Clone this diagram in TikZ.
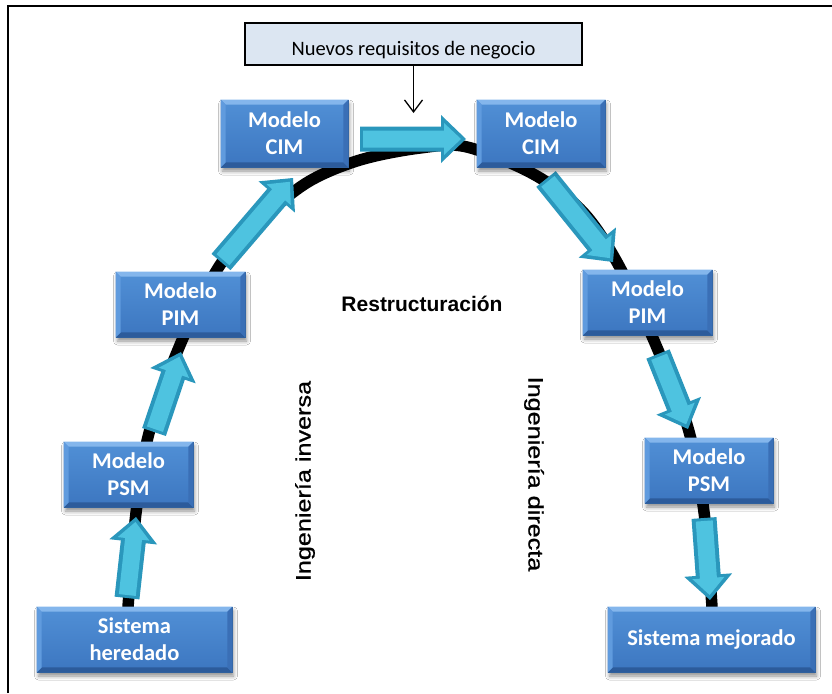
\documentclass[tikz,border=0pt]{standalone}
\usepackage{fontspec}
\setmainfont{Carlito}
\newfontfamily\arialfont{Liberation Sans}
\newfontfamily\arialsemi[FakeBold=0.8]{Liberation Sans}
\usetikzlibrary{calc,arrows.meta,shadows.blur}

\definecolor{faceTop}{HTML}{5190D6}
\definecolor{faceBot}{HTML}{3C76C0}
\definecolor{bvTop}{HTML}{84B6EC}
\definecolor{bvLeft}{HTML}{609BDE}
\definecolor{bvRight}{HTML}{3A6FB6}
\definecolor{bvBot}{HTML}{2C5B9B}
\definecolor{boxLine}{HTML}{31639F}
\definecolor{cyanEdge}{HTML}{2A97BC}
\definecolor{cyanFace}{HTML}{4EC3E0}
\definecolor{noteFill}{HTML}{DCE6F2}

\tikzset{
  mbox/.style={rectangle, inner sep=0pt, align=center,
    top color=faceTop, bottom color=faceBot, draw=boxLine, line width=0.6pt,
    text=white, font=\fontsize{22.5}{27}\selectfont\bfseries,
    blur shadow={shadow xshift=1.5pt, shadow yshift=-4pt, shadow opacity=45, shadow blur radius=4pt}},
  notebox/.style={rectangle, draw=black, line width=1.1pt, fill=noteFill, inner sep=0pt},
  archline/.style={line width=11.5pt, black, line cap=round},
  thinarrow/.style={line width=1.3pt, -{Straight Barb[length=12pt, width=18pt]}},
  sidelabel/.style={font=\arialsemi\fontsize{21}{24}\selectfont, inner sep=0pt},
  framelines/.style={line width=1.2pt, black}
}

% bevelled edge strips drawn over a model box
\newcommand\bevelbox[1]{%
  \fill[bvTop] (#1.north west) -- (#1.north east) -- ([shift={(-5,5)}]#1.north east) -- ([shift={(5,5)}]#1.north west) -- cycle;
  \fill[bvBot] (#1.south west) -- (#1.south east) -- ([shift={(-5,-5)}]#1.south east) -- ([shift={(5,-5)}]#1.south west) -- cycle;
  \fill[bvLeft] (#1.north west) -- ([shift={(5,5)}]#1.north west) -- ([shift={(5,-5)}]#1.south west) -- (#1.south west) -- cycle;
  \fill[bvRight] (#1.north east) -- ([shift={(-5,5)}]#1.north east) -- ([shift={(-5,-5)}]#1.south east) -- (#1.south east) -- cycle;
}

% thick cyan block arrow from #1 to #2, with a lighter inner face
\newcommand\cyanarrow[2]{%
  \coordinate (ah) at ($(#2)!25pt!(#1)$);
  \fill[cyanEdge] ($(#1)!12.5pt!90:(#2)$) -- ($(ah)!12.5pt!90:(#2)$) -- ($(ah)!24pt!90:(#2)$) -- (#2)
     -- ($(ah)!24pt!-90:(#2)$) -- ($(ah)!12.5pt!-90:(#2)$) -- ($(#1)!12.5pt!-90:(#2)$) -- cycle;
  \coordinate (ia) at ($(#1)!3pt!(#2)$);
  \coordinate (ib) at ($(#2)!5pt!(#1)$);
  \coordinate (ih) at ($(ib)!17pt!(#1)$);
  \fill[cyanFace] ($(ia)!8.5pt!90:(ib)$) -- ($(ih)!8.5pt!90:(ib)$) -- ($(ih)!16pt!90:(ib)$) -- (ib)
     -- ($(ih)!16pt!-90:(ib)$) -- ($(ih)!8.5pt!-90:(ib)$) -- ($(ia)!8.5pt!-90:(ib)$) -- cycle;
}

\begin{document}
\begin{tikzpicture}[x=1pt, y=-1pt]
  \useasboundingbox (0,0) rectangle (832,693);
  \fill[white] (0,0) rectangle (832,693);

  % outer frame
  \draw[framelines] (8,693) -- (8,6) -- (832,6);

  % the black arch
  \draw[archline] plot[smooth, tension=0.55] coordinates {
    (128,607) (136,513) (149,433) (180,345) (220,265) (262,219) (308,182) (360,160)
    (420,148) (467,147) (535,175) (583,212) (618,264) (655,343) (688,428) (704,512) (712,607)};

  % arrows along the arch
  \coordinate (a1t) at (127,598);  \coordinate (a1h) at (136,517);
  \coordinate (a2t) at (154,432);  \coordinate (a2h) at (181,352);
  \coordinate (a3t) at (221,262);  \coordinate (a3h) at (293,178);
  \coordinate (a4t) at (360,139);  \coordinate (a4h) at (466,139);
  \coordinate (a5t) at (546,179);  \coordinate (a5h) at (613,262);
  \coordinate (a6t) at (658,354);  \coordinate (a6h) at (688,429);
  \coordinate (a7t) at (704,518);  \coordinate (a7h) at (710,600);
  \cyanarrow{a1t}{a1h}
  \cyanarrow{a2t}{a2h}
  \cyanarrow{a3t}{a3h}
  \cyanarrow{a4t}{a4h}
  \cyanarrow{a5t}{a5h}
  \cyanarrow{a6t}{a6h}
  \cyanarrow{a7t}{a7h}

  % model boxes
  \node[mbox, minimum width=127pt, minimum height=67pt] (ciml) at (284.5,133.5) {Modelo\\CIM};
  \node[mbox, minimum width=128pt, minimum height=67pt] (cimr) at (541,133.5) {Modelo\\CIM};
  \node[mbox, minimum width=129pt, minimum height=65pt] (piml) at (180.5,304.5) {Modelo\\PIM};
  \node[mbox, minimum width=129pt, minimum height=65pt] (pimr) at (647.5,302.5) {Modelo\\PIM};
  \node[mbox, minimum width=129pt, minimum height=65pt] (psml) at (128.5,474.5) {Modelo\\PSM};
  \node[mbox, minimum width=128pt, minimum height=65pt] (psmr) at (709,470.5) {Modelo\\PSM};
  \node[mbox, minimum width=195pt, minimum height=65pt] (old) at (134.5,639.5) {Sistema\\heredado};
  \node[mbox, minimum width=207pt, minimum height=65pt] (new) at (711.5,639.5) {Sistema mejorado};
  \foreach \b in {ciml,cimr,piml,pimr,psml,psmr,old,new} {\bevelbox{\b}}

  % new business requirements
  \node[notebox, minimum width=337pt, minimum height=42pt] (req) at (413.5,44) {};
  \node[font=\fontsize{20.5}{22}\selectfont, inner sep=0pt, anchor=base] (reqtext) at (413.5,55.5) {Nuevos requisitos de negocio};
  \coordinate (reqend) at (413.5,113);
  \draw[thinarrow] (req.south) -- (reqend);

  % phase labels
  \node[font=\arialfont\bfseries\fontsize{21}{24}\selectfont, inner sep=0pt] (restr) at (422,304) {Restructuración};
  \node[sidelabel, rotate=90] (inv) at (305,481) {\scalebox{1.2}[1]{Ingeniería inversa}};
  \node[sidelabel, rotate=-90] (dir) at (534,474) {\scalebox{1.2}[1]{Ingeniería directa}};
\end{tikzpicture}
\end{document}
